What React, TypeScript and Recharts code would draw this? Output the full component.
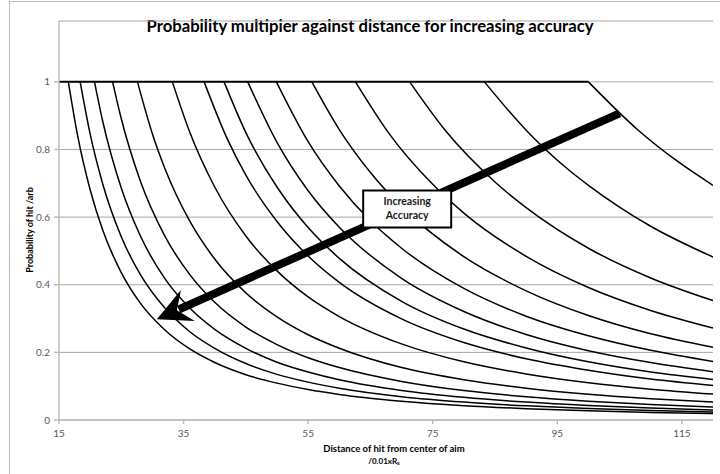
import React from "react";
import { LineChart, Line, XAxis, YAxis, CartesianGrid, ReferenceLine, ReferenceDot } from "recharts";

// Curves: [distance, probability]
const accuracy1 = [[16.5,1],[18,0.84],[20,0.681],[22,0.5625],[25,0.436],[28,0.347],[32,0.266],[36,0.21],[40,0.17],[45,0.134],[50,0.109],[55,0.09],[60,0.0756],[70,0.0556],[80,0.0425],[90,0.0336],[100,0.0272],[110,0.0225],[120,0.0189]];
const accuracy2 = [[18.4,1],[20,0.846],[22,0.6995],[25,0.542],[28,0.432],[32,0.331],[36,0.261],[40,0.212],[45,0.167],[50,0.135],[55,0.112],[60,0.094],[70,0.069],[80,0.0529],[90,0.0418],[100,0.0339],[110,0.028],[120,0.0235]];
const accuracy3 = [[20.7,1],[22,0.885],[25,0.686],[28,0.547],[32,0.418],[36,0.331],[40,0.268],[45,0.212],[50,0.171],[55,0.142],[60,0.119],[70,0.0874],[80,0.067],[90,0.0529],[100,0.0428],[110,0.0354],[120,0.0298]];
const accuracy4 = [[23.6,1],[25,0.891],[28,0.71],[32,0.544],[36,0.43],[40,0.348],[45,0.275],[50,0.223],[55,0.184],[60,0.155],[70,0.114],[80,0.087],[90,0.0688],[100,0.0557],[110,0.046],[120,0.0387]];
const accuracy5 = [[27.6,1],[30,0.846],[32,0.744],[36,0.588],[40,0.476],[45,0.376],[50,0.305],[55,0.252],[60,0.212],[70,0.155],[80,0.119],[90,0.094],[100,0.0762],[110,0.063],[120,0.0529]];
const accuracy6 = [[33.2,1],[36,0.851],[40,0.689],[45,0.544],[50,0.441],[55,0.364],[60,0.306],[70,0.225],[80,0.172],[90,0.136],[100,0.11],[110,0.0911],[120,0.0765]];
const accuracy7 = [[38.3,1],[42,0.832],[45,0.724],[50,0.587],[55,0.485],[60,0.407],[70,0.299],[80,0.229],[90,0.181],[100,0.147],[110,0.121],[120,0.102]];
const accuracy8 = [[41.5,1],[45,0.85],[50,0.689],[55,0.569],[60,0.478],[70,0.351],[80,0.269],[90,0.213],[100,0.172],[110,0.142],[120,0.12]];
const accuracy9 = [[45.3,1],[50,0.821],[55,0.678],[60,0.57],[70,0.419],[80,0.321],[90,0.253],[100,0.205],[110,0.17],[120,0.143]];
const accuracy10 = [[49.9,1],[55,0.823],[60,0.692],[65,0.589],[70,0.508],[80,0.389],[90,0.307],[100,0.249],[110,0.206],[120,0.173]];
const accuracy11 = [[55.6,1],[60,0.859],[65,0.732],[70,0.631],[80,0.483],[90,0.382],[100,0.309],[110,0.255],[120,0.215]];
const accuracy12 = [[62.6,1],[68,0.847],[75,0.697],[80,0.612],[90,0.484],[100,0.392],[110,0.324],[120,0.272]];
const accuracy13 = [[71.3,1],[77,0.857],[85,0.704],[90,0.628],[100,0.508],[110,0.42],[120,0.353]];
const accuracy14 = [[83.3,1],[90,0.857],[97,0.737],[100,0.694],[110,0.573],[120,0.482]];
const accuracy15 = [[100,1],[108,0.857],[114,0.769],[120,0.694]];
const capLine = [[15,1],[100,1]];

const curves = [accuracy1, accuracy2, accuracy3, accuracy4, accuracy5, accuracy6, accuracy7, accuracy8, accuracy9, accuracy10, accuracy11, accuracy12, accuracy13, accuracy14, accuracy15];

const xTicks = [15, 35, 55, 75, 95, 115];
const yTicks = [0, 0.2, 0.4, 0.6, 0.8, 1];

const arrowStart = { x: 105.0, y: 0.907 };
const arrowTip = { x: 30.7, y: 0.298 };
const labelAt = { x: 70.9, y: 0.624 };

const titleText = "Probability multipier against distance for increasing accuracy";
const yLabel = "Probability of hit /arb";
const xLabel1 = "Distance of hit from center of aim";

const FONT = "Lato, 'Open Sans', sans-serif";

const toPts = (arr: number[][]) => arr.map(([x, y]) => ({ x, y }));

function ArrowShape(props: any) {
  const { x1, y1, x2, y2 } = props;
  if ([x1, y1, x2, y2].some((v) => typeof v !== "number" || isNaN(v))) return null;
  const dx = x2 - x1, dy = y2 - y1;
  const len = Math.sqrt(dx * dx + dy * dy);
  const ux = dx / len, uy = dy / len;
  const nx = -uy, ny = ux;
  const hl = 34, hw = 17, notch = 22;
  const sx = x2 - ux * (notch + 2), sy = y2 - uy * (notch + 2);
  const p1 = `${x2},${y2}`;
  const p2 = `${x2 - ux * hl + nx * hw},${y2 - uy * hl + ny * hw}`;
  const p3 = `${x2 - ux * notch},${y2 - uy * notch}`;
  const p4 = `${x2 - ux * hl - nx * hw},${y2 - uy * hl - ny * hw}`;
  return (
    <g>
      <line x1={x1} y1={y1} x2={sx} y2={sy} stroke="#000" strokeWidth={8} />
      <polygon points={`${p1} ${p2} ${p3} ${p4}`} fill="#000" />
    </g>
  );
}

function LabelBox(props: any) {
  const { cx, cy } = props;
  if (typeof cx !== "number" || typeof cy !== "number") return null;
  const w = 88, h = 37;
  return (
    <g>
      <rect x={cx - w / 2} y={cy - h / 2} width={w} height={h} fill="#fff" stroke="#000" strokeWidth={2} />
      <text x={cx} y={cy - 4} textAnchor="middle" fontFamily={FONT} fontWeight="bold" fontSize={10.5} fill="#1a1a1a">Increasing</text>
      <text x={cx} y={cy + 10} textAnchor="middle" fontFamily={FONT} fontWeight="bold" fontSize={10.5} fill="#1a1a1a">Accuracy</text>
    </g>
  );
}

export default function App() {
  return (
    <div style={{ position: "fixed", left: 0, top: 0, width: 720, height: 474, background: "#fff", overflow: "hidden" }}>
      <div style={{ position: "absolute", left: 9, top: 1, width: 720, height: 480, borderLeft: "1px solid #bdbdbd", borderTop: "1px solid #bdbdbd" }} />
      <svg width={720} height={474} style={{ position: "absolute", left: 0, top: 0 }}>
        <text x={370} y={32} textAnchor="middle" fontFamily={FONT} fontWeight="bold" fontSize={17} fill="#000" textLength={447} lengthAdjust="spacingAndGlyphs">{titleText}</text>
        <text transform="translate(33,230) rotate(-90)" textAnchor="middle" fontFamily={FONT} fontWeight="bold" fontSize={9} fill="#000">{yLabel}</text>
        <text x={394} y={452} textAnchor="middle" fontFamily={FONT} fontWeight="bold" fontSize={9.5} fill="#000">{xLabel1}</text>
        <text x={384} y={464} textAnchor="middle" fontFamily={FONT} fontWeight="bold" fontSize={8} fill="#000">/0.01xR<tspan fontSize={6} dy={1}>s</tspan></text>
      </svg>
      <div style={{ position: "absolute", left: 0, top: 0 }}>
        <LineChart width={720} height={474} margin={{ top: 21, right: 7, bottom: 24, left: 9 }}>
          <CartesianGrid horizontal={true} vertical={false} stroke="#a6a6a6" strokeWidth={1} />
          <XAxis
            type="number"
            dataKey="x"
            domain={[15, 120]}
            ticks={xTicks}
            allowDataOverflow
            height={30}
            tickSize={4}
            tickMargin={6}
            stroke="#bdbdbd"
            strokeWidth={1.5}
            tick={{ fontFamily: FONT, fontSize: 10, fill: "#595959" }}
            tickLine={{ stroke: "#bdbdbd" }}
          />
          <YAxis
            type="number"
            dataKey="y"
            domain={[0, 1.18]}
            ticks={yTicks}
            allowDataOverflow
            width={50}
            tickSize={5}
            tickMargin={4}
            stroke="#bdbdbd"
            strokeWidth={1.5}
            tick={{ fontFamily: FONT, fontSize: 10, fill: "#595959" }}
            tickLine={{ stroke: "#bdbdbd" }}
          />
          <Line data={toPts(capLine)} dataKey="y" type="linear" stroke="#000" strokeWidth={2} dot={false} activeDot={false} isAnimationActive={false} />
          {curves.map((c, i) => (
            <Line key={i} data={toPts(c)} dataKey="y" type="monotone" stroke="#000" strokeWidth={1.5} dot={false} activeDot={false} isAnimationActive={false} />
          ))}
          <ReferenceLine segment={[arrowStart, arrowTip]} shape={ArrowShape} stroke="#000" />
          <ReferenceDot x={labelAt.x} y={labelAt.y} r={1} shape={LabelBox} />
        </LineChart>
      </div>
    </div>
  );
}
